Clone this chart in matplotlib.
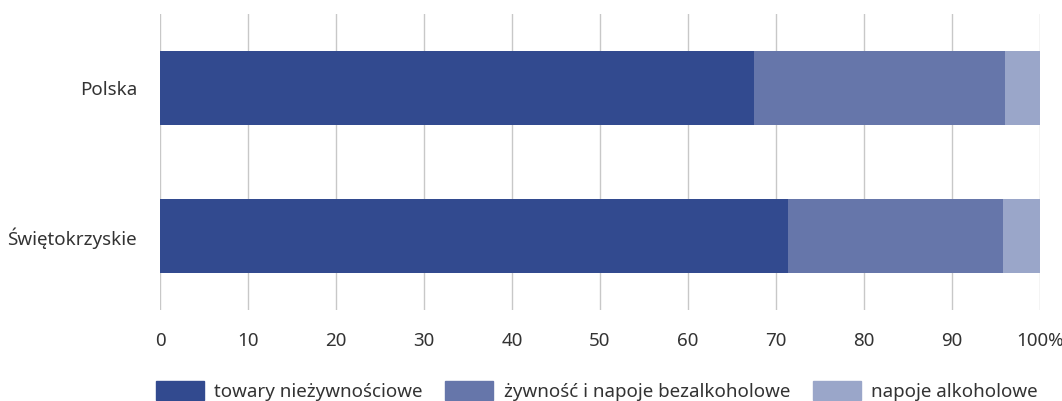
import matplotlib as mpl
mpl.use('Agg')
import matplotlib.pyplot as plt
import matplotlib.patches as mpatches
import numpy as np

regions = ["Polska", "Świętokrzyskie"]
nonfood = [67.5, 71.4]
food = [28.5, 24.4]
alcohol = [4.0, 4.2]
series_names = ["towary nieżywnościowe", "żywność i napoje bezalkoholowe", "napoje alkoholowe"]
colors = ["#324a8f", "#6676aa", "#9aa6c9"]
ticks = [0, 10, 20, 30, 40, 50, 60, 70, 80, 90, 100]
tick_labels = [str(t) for t in ticks[:-1]] + ["100%"]

plt.rcParams['font.family'] = ['Noto Sans', 'DejaVu Sans']
fs = 13.5

fig = plt.figure(figsize=(10.62, 4.01), dpi=100)
ax = fig.add_axes([160/1062, 1 - 310/401, 880/1062, 296/401])

y = np.arange(len(regions))
left = np.zeros(len(regions))
for vals, c in zip([nonfood, food, alcohol], colors):
    ax.barh(y, vals, left=left, height=0.5, color=c, zorder=2)
    left = left + np.array(vals)

ax.set_xlim(0, 100)
ax.set_ylim(1.5, -0.5)
ax.set_xticks(ticks)
ax.set_xticklabels(tick_labels, fontsize=fs, color="#333333")
ax.set_yticks(y)
ax.set_yticklabels(regions, fontsize=fs, color="#333333")
ax.grid(axis="x", color="#c8c8c8", linewidth=1, zorder=0)
for s in ax.spines.values():
    s.set_visible(False)
ax.tick_params(axis="both", length=0)
ax.tick_params(axis="x", pad=16)
ax.tick_params(axis="y", pad=16.5)

patches = [mpatches.Patch(color=c, label=n) for c, n in zip(colors, series_names)]
fig.legend(handles=patches, loc="center", bbox_to_anchor=(0.562, 1 - 391/401), ncol=3,
           frameon=False, fontsize=fs, handlelength=2.56, handleheight=1.15,
           handletextpad=0.55, columnspacing=1.2, labelcolor="#333333",
           borderpad=0, borderaxespad=0)

fig.savefig("out.png", dpi=100)
